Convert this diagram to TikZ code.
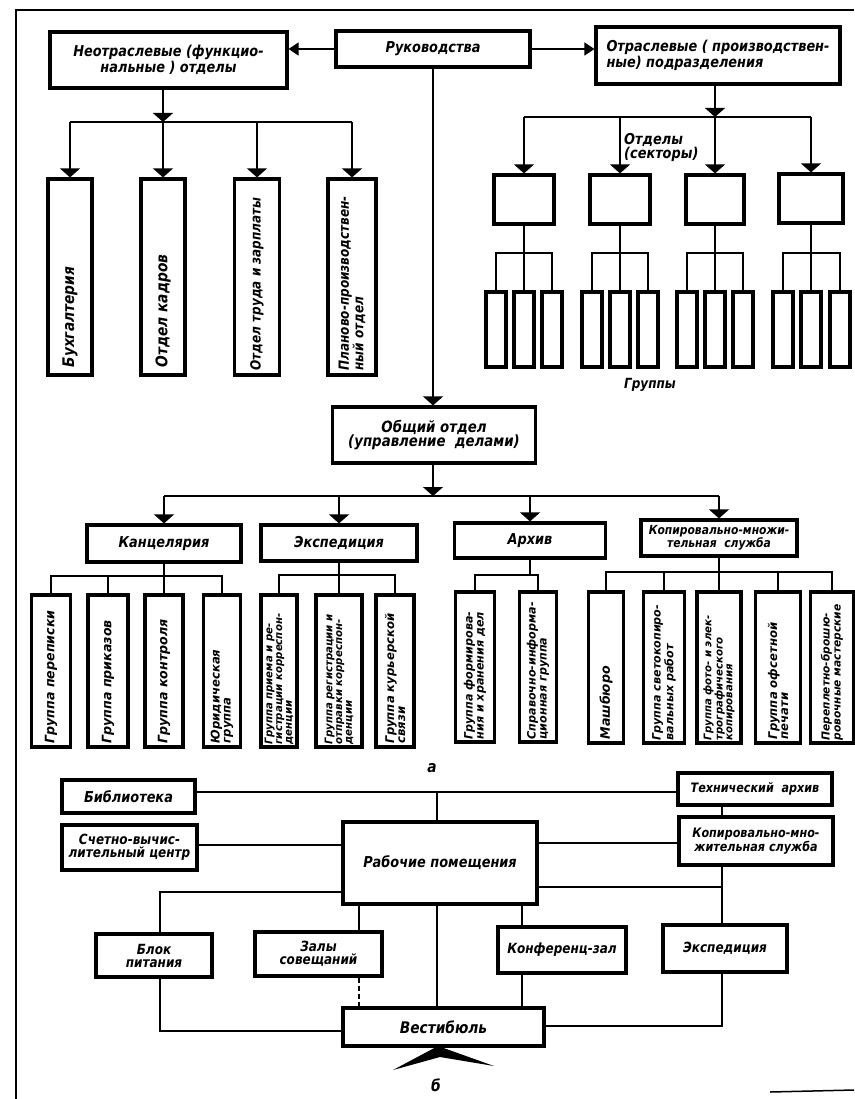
\documentclass[tikz,border=0pt]{standalone}
\usepackage{fontspec}
\setmainfont{DejaVu Sans}[FakeStretch=0.86]
\newfontfamily\gw{DejaVu Sans}[FakeStretch=0.97]
\usetikzlibrary{arrows.meta}
\newcommand{\fsz}[2]{\fontsize{#1}{#2}\selectfont}
\begin{document}
\begin{tikzpicture}[x=1pt,y=-1pt,
  box/.style={draw,line width=3.2pt,inner sep=0pt,align=center,font=\bfseries\itshape\fsz{15}{13}},
  conn/.style={line width=1.4pt},
  arr/.style={conn,-{Triangle[width=20pt,length=9pt]}},
  arrs/.style={conn,-{Triangle[width=13pt,length=10pt]}},
  vt/.style={rotate=90,anchor=west,align=left,inner sep=0pt},
  lbl/.style={inner sep=0pt,align=left,font=\bfseries\itshape\fsz{15}{14}}
]
\useasboundingbox (0,0) rectangle (854,1099);
\draw[line width=2.2pt] (16,1099) -- (16,10) -- (854,10);
\draw[line width=1.5pt] (770,1092) -- (854,1090);

% ---------- top ----------
\node[box,minimum width=194pt,minimum height=36pt] (ruk) at (433,49) {Руководства};
\node[box,minimum width=237pt,minimum height=56pt] (neotr) at (168.5,60) {Неотраслевые (функцио-\\нальные ) отделы};
\node[box,minimum width=244pt,minimum height=57pt,align=left] (otr) at (718,55.5) {Отраслевые ( производствен-\\ные) подразделения};
\draw[arrs] (ruk.west) -- (ruk.west -| neotr.east);
\draw[arrs] (ruk.east) -- (ruk.east -| otr.west);

% functional departments
\coordinate (nb) at (163,122);
\node[box,minimum width=44pt,minimum height=196pt] (f1) at (70,277) {};
\node[box,minimum width=44pt,minimum height=196pt] (f2) at (163,277) {};
\node[box,minimum width=45pt,minimum height=196pt] (f3) at (257,277) {};
\node[box,minimum width=48pt,minimum height=196pt] (f4) at (352,277) {};
\draw[arr] (nb |- neotr.south) -- (nb);
\draw[conn] (f1.north |- nb) -- (f4.north |- nb);
\foreach \i in {1,...,4} \draw[arr] (f\i.north |- nb) -- (f\i.north);
\node[vt,font=\bfseries\itshape\fsz{16}{15}] (f1t) at ([yshift=9pt]f1.south) {Бухгалтерия};
\node[vt,font=\bfseries\itshape\fsz{16}{15}] (f2t) at ([yshift=9pt]f2.south) {Отдел кадров};
\node[vt,font=\bfseries\itshape\fsz{14}{13}] (f3t) at ([yshift=6pt]f3.south) {Отдел труда и зарплаты};
\node[vt,font=\bfseries\itshape\fsz{14}{13}] (f4t) at ([yshift=6pt]f4.south) {Планово-производствен-\\ный отдел};

% branch departments
\coordinate (ob) at (715,117);
\coordinate (gbar) at (0,253);
\node[box,minimum width=60pt,minimum height=49pt] (d1) at (524,199.5) {};
\node[box,minimum width=60pt,minimum height=49pt] (d2) at (620,199.5) {};
\node[box,minimum width=58pt,minimum height=49pt] (d3) at (715,199.5) {};
\node[box,minimum width=64pt,minimum height=49pt] (d4) at (811,198.5) {};
\draw[arr] (ob |- otr.south) -- (ob);
\draw[conn] (d1.north |- ob) -- (d4.north |- ob);
\foreach \i in {1,...,4} \draw[arr] (d\i.north |- ob) -- (d\i.north);
\foreach \d/\xa/\xb/\xc in {1/496/524/552, 2/592/620/648, 3/687/715/743, 4/783/811/840} {
  \node[box,minimum width=20pt,minimum height=75pt] (ga\d) at (\xa,329.5) {};
  \node[box,minimum width=20pt,minimum height=75pt] (gb\d) at (\xb,329.5) {};
  \node[box,minimum width=20pt,minimum height=75pt] (gc\d) at (\xc,329.5) {};
  \draw[conn] (d\d.south) -- (gb\d.north);
  \draw[conn] (ga\d.north) |- (gc\d.north |- gbar) -- (gc\d.north);
}
\node[lbl,anchor=west] (otdl) at (624,147) {Отделы\\(секторы)};
\node[lbl,font=\bfseries\itshape\fsz{14}{13}] (grl) at (650,385) {Группы};

% ---------- general department ----------
\node[box,minimum width=203pt,minimum height=56pt,font=\bfseries\itshape\fsz{15.5}{14}] (obsh) at (434,435) {Общий отдел\\(управление\ \ делами)};
\draw[arr] (ruk.south) -- (ruk.south |- obsh.north);
\coordinate (mb) at (433,496);
\node[box,minimum width=154pt,minimum height=37pt] (kanc) at (164,543.5) {Канцелярия};
\node[box,minimum width=156pt,minimum height=36pt] (exped) at (339,543) {Экспедиция};
\node[box,minimum width=151pt,minimum height=35pt] (arch) at (530,540.5) {Архив};
\node[box,minimum width=156pt,minimum height=36pt,font=\bfseries\itshape\fsz{12.5}{11}] (kop) at (719,538) {Копировально-множи-\\тельная\ \ служба};
\draw[arr] (mb |- obsh.south) -- (mb);
\draw[conn] (kanc.north |- mb) -- (kop.north |- mb);
\foreach \n in {kanc,exped,arch,kop} \draw[arr] (\n.north |- mb) -- (\n.north);

% sub groups
\coordinate (kb) at (0,576);
\coordinate (eb) at (0,575);
\coordinate (ab) at (0,575);
\coordinate (kpb) at (0,572);
\tikzset{sg/.style={box,minimum height=152pt}}
\node[sg,minimum width=39pt] (c1) at (51,671) {};
\node[sg,minimum width=40pt] (c2) at (108,671) {};
\node[sg,minimum width=38pt] (c3) at (164,671) {};
\node[sg,minimum width=37pt] (c4) at (222,671) {};
\node[sg,minimum width=36pt] (e1) at (279,671) {};
\node[sg,minimum width=46pt] (e2) at (339,671) {};
\node[sg,minimum width=38pt] (e3) at (395,671) {};
\node[sg,minimum width=39pt,minimum height=150pt] (a1) at (475,667) {};
\node[sg,minimum width=37pt,minimum height=150pt] (a2) at (538,667) {};
\node[sg,minimum width=35pt,minimum height=151pt] (k1) at (606,667.5) {};
\node[sg,minimum width=41pt,minimum height=151pt] (k2) at (664,667.5) {};
\node[sg,minimum width=44pt,minimum height=151pt] (k3) at (719,667.5) {};
\node[sg,minimum width=45pt,minimum height=151pt] (k4) at (778,667.5) {};
\node[sg,minimum width=43pt,minimum height=151pt] (k5) at (832,667.5) {};

\draw[conn] (kanc.south) -- (c3.north);
\draw[conn] (c1.north) |- (c4.north |- kb) -- (c4.north);
\draw[conn] (c2.north) -- (c2.north |- kb);
\draw[conn] (exped.south) -- (e2.north);
\draw[conn] (e1.north) |- (e3.north |- eb) -- (e3.north);
\draw[conn] (arch.south) -- (arch.south |- ab);
\draw[conn] (a1.north) |- (a2.north |- ab) -- (a2.north);
\draw[conn] (kop.south) -- (k3.north);
\draw[conn] (k1.north) |- (k5.north |- kpb) -- (k5.north);
\draw[conn] (k2.north) -- (k2.north |- kpb);
\draw[conn] (k4.north) -- (k4.north |- kpb);

\tikzset{v1/.style={vt,font=\gw\bfseries\itshape\fsz{13}{12}},
         v2/.style={vt,font=\gw\bfseries\itshape\fsz{12}{11}},
         v3/.style={vt,font=\gw\bfseries\itshape\fsz{10.5}{9.8}}}
\node[v1] (c1t) at ([yshift=5pt]c1.south) {Группа переписки};
\node[v1] (c2t) at ([yshift=5pt]c2.south) {Группа приказов};
\node[v1] (c3t) at ([yshift=5pt]c3.south) {Группа контроля};
\node[v2] (c4t) at ([yshift=5pt]c4.south) {Юридическая\\группа};
\node[v3] (e1t) at ([yshift=4pt]e1.south) {Группа приема и ре-\\гистрации корреспон-\\денции};
\node[v3] (e2t) at ([yshift=4pt]e2.south) {Группа регистрации и\\отправки корреспон-\\денции};
\node[v2] (e3t) at ([yshift=5pt]e3.south) {Группа курьерской\\связи};
\node[v2,font=\gw\bfseries\itshape\fsz{11.5}{11}] (a1t) at ([yshift=4pt]a1.south) {Группа формирова-\\ния и хранения дел};
\node[v2,font=\gw\bfseries\itshape\fsz{11.5}{11}] (a2t) at ([yshift=4pt]a2.south) {Справочно-информа-\\ционная группа};
\node[v1] (k1t) at ([yshift=5pt]k1.south) {Машбюро};
\node[v2,font=\gw\bfseries\itshape\fsz{11.5}{11}] (k2t) at ([yshift=4pt]k2.south) {Группа светокопиро-\\вальных работ};
\node[v3] (k3t) at ([yshift=4pt]k3.south) {Группа фото- и элек-\\трографического\\копирования};
\node[v2] (k4t) at ([yshift=5pt]k4.south) {Группа офсетной\\печати};
\node[v2,font=\gw\bfseries\itshape\fsz{11}{11}] (k5t) at ([yshift=4pt]k5.south) {Переплетно-брошю-\\ровочные мастерские};

\node[lbl,font=\bfseries\itshape\fsz{16}{15}] (la) at (432,768) {а};

% ---------- plan б ----------
\node[box,minimum width=133pt,minimum height=33pt] (bibl) at (128.5,796.5) {Библиотека};
\node[box,minimum width=135pt,minimum height=45pt,font=\bfseries\itshape\fsz{14}{13}] (schet) at (129.5,847.5) {Счетно-вычис-\\лительный центр};
\node[box,minimum width=194pt,minimum height=82pt] (rab) at (440,863) {Рабочие помещения};
\node[box,minimum width=154pt,minimum height=32pt,font=\bfseries\itshape\fsz{13}{12}] (tech) at (755,789) {Технический\ \ архив};
\node[box,minimum width=154pt,minimum height=48pt,font=\bfseries\itshape\fsz{13}{12}] (kop2) at (756,841) {Копировально-мно-\\жительная служба};
\node[box,minimum width=116pt,minimum height=43pt,font=\bfseries\itshape\fsz{14}{13}] (blok) at (154,955.5) {Блок\\питания};
\node[box,minimum width=127pt,minimum height=44pt,font=\bfseries\itshape\fsz{14}{13}] (zaly) at (318.5,954) {Залы\\совещаний};
\node[box,minimum width=128pt,minimum height=46pt,font=\bfseries\itshape\fsz{14}{13}] (konf) at (562,950) {Конференц-зал};
\node[box,minimum width=124pt,minimum height=47pt,font=\bfseries\itshape\fsz{14}{13}] (exp2) at (725,948.5) {Экспедиция};
\node[box,minimum width=201pt,minimum height=38pt,font=\bfseries\itshape\fsz{16}{15}] (vest) at (443.5,1027) {Вестибюль};

\coordinate (tl) at (437,792);
\coordinate (sl) at (0,845);
\coordinate (kl) at (0,843);
\coordinate (vx) at (722,0);
\coordinate (bl) at (160,892);
\coordinate (el) at (722,887);
\coordinate (zx) at (359,0);
\coordinate (fx) at (522,0);
\coordinate (bl2) at (160,1031);
\coordinate (el2) at (722,1026);
\draw[conn] (bibl.east |- tl) -- (tech.west |- tl);
\draw[conn] (tl) -- (tl |- rab.north);
\draw[conn] (schet.east |- sl) -- (rab.west |- sl);
\draw[conn] (rab.east |- kl) -- (kop2.west |- kl);
\draw[conn] (vx |- tech.south) -- (vx |- kop2.north);
\draw[conn] (rab.west |- bl) -- (bl) -- (bl |- blok.north);
\draw[conn] (rab.east |- el) -- (el);
\draw[conn] (el |- kop2.south) -- (el |- exp2.north);
\draw[conn] (zx |- rab.south) -- (zx |- zaly.north);
\draw[conn,dash pattern=on 5pt off 3pt] (zx |- zaly.south) -- (zx |- vest.north);
\draw[conn] (tl |- rab.south) -- (tl |- vest.north);
\draw[conn] (fx |- rab.south) -- (fx |- konf.north);
\draw[conn] (fx |- konf.south) -- (fx |- vest.north);
\draw[conn] (bl |- blok.south) -- (bl2) -- (vest.west |- bl2);
\draw[conn] (el |- exp2.south) -- (el2) -- (vest.east |- el2);
\fill (393,1070) -- (438,1046) -- (494,1066) -- (440,1057) -- cycle;

\node[lbl,font=\bfseries\itshape\fsz{16}{15}] (lb) at (436,1085) {б};
\end{tikzpicture}
\end{document}
